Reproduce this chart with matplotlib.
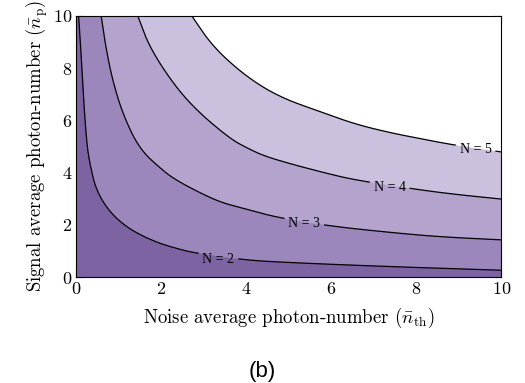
import numpy as np
import matplotlib.pyplot as plt

plt.rcParams['font.family'] = 'serif'
plt.rcParams['font.serif'] = ['cmr10', 'DejaVu Serif']
plt.rcParams['mathtext.fontset'] = 'cm'
plt.rcParams['axes.formatter.use_mathtext'] = True

# contour curves (noise n_th, signal n_p)
n2_x = [0.05, 0.10, 0.14, 0.19, 0.25, 0.32, 0.46, 0.77, 1.17, 1.55, 1.95, 2.34, 2.74,
        3.95, 5.03, 7.34, 10.0]
n2_y = [10.0, 8.79, 7.52, 6.24, 5.00, 4.30, 3.34, 2.51, 1.93, 1.58, 1.30, 1.11, 0.94,
        0.66, 0.56, 0.41, 0.27]

n3_x = [0.58, 0.69, 0.85, 1.09, 1.48, 2.04, 2.34, 2.83, 3.38, 3.92, 4.70,
        5.96, 7.34, 8.52, 10.0]
n3_y = [10.0, 8.79, 7.52, 6.24, 4.90, 4.07, 3.72, 3.29, 2.87, 2.64, 2.29,
        1.96, 1.72, 1.55, 1.43]

n4_x = [1.44, 1.72, 2.28, 2.83, 3.62, 4.04, 4.40, 4.98, 5.87, 6.55, 8.00, 8.91, 10.0]
n4_y = [10.0, 8.79, 7.39, 6.37, 5.29, 4.92, 4.65, 4.36, 3.98, 3.72, 3.36, 3.17, 2.99]

n5_x = [2.71, 3.22, 4.01, 4.79, 5.77, 6.55, 7.34, 8.12, 8.83, 10.0]
n5_y = [10.0, 8.79, 7.65, 6.88, 6.31, 5.86, 5.54, 5.29, 5.07, 4.79]

levels = [2, 3, 4, 5]
curves = [(n2_x, n2_y), (n3_x, n3_y), (n4_x, n4_y), (n5_x, n5_y)]
band_colors = ['#7e63a3', '#9c87bd', '#b3a3cd', '#cbc1de', 'white']

# label positions (x centre, y centre, half width)
label_pos = [(3.34, 0.68, 0.42), (5.36, 2.05, 0.42), (7.37, 3.44, 0.42), (9.39, 4.87, 0.42)]


def smooth(x, y, n_iter=4):
    # Chaikin corner cutting, just to draw the polyline rounder
    pts = np.column_stack([x, y])
    for _ in range(n_iter):
        q = 0.75 * pts[:-1] + 0.25 * pts[1:]
        r = 0.25 * pts[:-1] + 0.75 * pts[1:]
        mid = np.empty((2 * len(q), 2))
        mid[0::2] = q
        mid[1::2] = r
        pts = np.vstack([pts[:1], mid, pts[-1:]])
    return pts[:, 0], pts[:, 1]


fig = plt.figure(figsize=(5.25, 3.83), dpi=100)
ax = fig.add_axes([0.1457, 0.276, 0.8095, 0.683])

ax.add_patch(plt.Rectangle((0, 0), 10, 10, color=band_colors[0], zorder=1))
for (cx, cy), col in zip(curves, band_colors[1:]):
    sx, sy = smooth(cx, cy)
    ax.fill(np.append(sx, 10.0), np.append(sy, 10.0), color=col, lw=0, zorder=1)

for (cx, cy), (lx, ly, hw), lev in zip(curves, label_pos, levels):
    sx, sy = smooth(cx, cy)
    xa, xb = lx - hw - 0.06, lx + hw + 0.06
    left = sx < xa
    right = sx > xb
    ax.plot(np.append(sx[left], xa), np.append(sy[left], np.interp(xa, sx, sy)),
            color='black', lw=0.9, zorder=2)
    if xb < 10:
        ax.plot(np.insert(sx[right], 0, xb), np.insert(sy[right], 0, np.interp(xb, sx, sy)),
                color='black', lw=0.9, zorder=2)
    ax.text(lx, ly, f'N = {lev}', fontsize=10, family='Liberation Serif',
            ha='center', va='center', zorder=3)

ax.set_xlim(0, 10)
ax.set_ylim(0, 10)
ax.set_xticks([0, 2, 4, 6, 8, 10])
ax.set_yticks([0, 2, 4, 6, 8, 10])
ax.set_axisbelow(True)
ax.tick_params(direction='in', top=True, right=True, length=5, labelsize=13, pad=3)
ax.set_xlabel(r'Noise average photon-number $(\bar{n}_{\mathrm{th}})$', fontsize=13.5, labelpad=6)
ax.set_ylabel(r'Signal average photon-number $(\bar{n}_{\mathrm{p}})$', fontsize=13.5, labelpad=2)

fig.text(0.5, 0.03, '(b)', fontsize=16, family='Liberation Sans', ha='center', va='center')

fig.savefig('out.png', dpi=100)
